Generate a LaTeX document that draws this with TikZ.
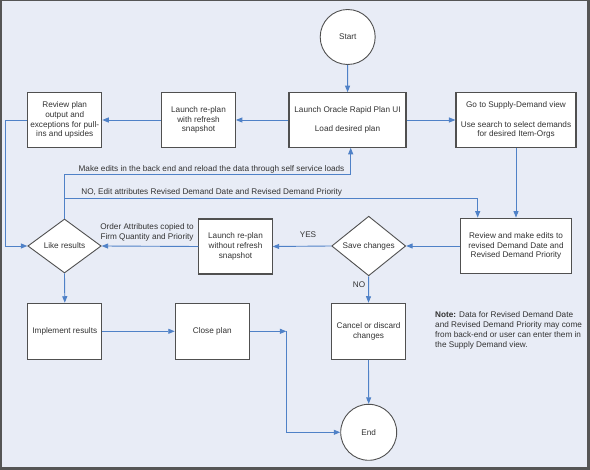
\documentclass[tikz,border=0pt]{standalone}
\usepackage{fontspec}
\setmainfont{Liberation Sans}
\usetikzlibrary{shapes.geometric,arrows.meta,calc}
\definecolor{bgc}{HTML}{E8ECF6}
\definecolor{linec}{HTML}{4F81C7}
\definecolor{boxc}{HTML}{505050}
\definecolor{txtc}{HTML}{333333}
\definecolor{framec}{HTML}{555555}
\begin{document}
\begin{tikzpicture}[x=1pt,y=-1pt,
  every node/.style={font=\fontsize{8.2}{9.8}\selectfont, text=txtc},
  box/.style={draw=boxc, line width=1.1pt, fill=white, align=center, inner sep=1pt},
  dia/.style={draw=boxc, line width=0.9pt, fill=white, diamond, inner sep=0pt, align=center},
  term/.style={draw=boxc, line width=0.9pt, fill=white, circle, inner sep=0pt},
  conn/.style={draw=linec, line width=0.9pt, -{Triangle[length=6.5pt,width=5pt]}},
  plain/.style={draw=linec, line width=0.9pt},
  lbl/.style={align=center, inner sep=0pt}]
\useasboundingbox (0,0) rectangle (590,470);
\fill[framec] (0,0) rectangle (590,470);
\fill[bgc] (1.5,1.5) rectangle (586.5,467);

\node[term, minimum size=55pt] (start) at (347.7,37) {Start};
\node[box, minimum width=117pt, minimum height=54.5pt] (launch) at (347.5,120) {Launch Oracle Rapid Plan UI\\[9.8pt]Load desired plan};
\node[box, minimum width=120pt, minimum height=54.5pt] (gosd) at (516,120) {Go to Supply-Demand view\\[9.8pt]Use search to select demands\\for desired Item-Orgs};
\node[box, minimum width=73.6pt, minimum height=54.5pt] (replan1) at (198.5,120) {Launch re-plan\\with refresh\\snapshot};
\node[box, minimum width=74pt, minimum height=54.5pt] (review) at (64.7,120) {Review plan\\output and\\exceptions for pull-\\ins and upsides};
\node[dia, minimum width=73.4pt, minimum height=54pt] (like) at (64.5,246) {Like results};
\node[box, minimum width=73.3pt, minimum height=55pt] (replan2) at (235.5,246.5) {Launch re-plan\\without refresh\\snapshot};
\node[dia, minimum width=74pt, minimum height=55pt] (save) at (368.7,246) {Save changes};
\node[box, minimum width=111.5pt, minimum height=55.7pt] (edit) at (516,246) {Review and make edits to\\revised Demand Date and\\Revised Demand Priority};
\node[box, minimum width=74pt, minimum height=56pt] (impl) at (64.8,331.3) {Implement results};
\node[box, minimum width=74pt, minimum height=56pt] (close) at (212.3,331.3) {Close plan};
\node[box, minimum width=74.4pt, minimum height=56pt] (cancel) at (368.5,331.3) {Cancel or discard\\changes};
\node[term, minimum size=56pt] (end) at (368.7,432.3) {End};

\node[lbl, anchor=north west, align=left] (note) at (435,311.5) {\textbf{Note:} Data for Revised Demand Date\\and Revised Demand Priority may come\\from back-end or user can enter them in\\the Supply Demand view.};

\draw[conn] (start) -- (launch);
\draw[conn] (launch.west) -- (replan1.east);
\draw[conn] (replan1.west) -- (review.east);
\draw[conn] (launch.east) -- (gosd.west);
\draw[conn] (gosd.south) -- (edit.north);
\draw[conn] (edit.west) -- (save.east);
\draw[conn] (save.west) -- (replan2.east);
\draw[conn] (replan2.west) -- (like.east);
\draw[conn] (review.west) -- ($(review.west)+(-21.7,0)$) |- (like.west);
\draw[conn] (like.south) -- (impl.north);
\draw[conn] (like.north) -- ($(like.north)+(0,-44)$) -| ($(launch.south)+(3.2,0)$);
\coordinate (nob) at ($(like.north)+(0,-19.7)$);
\draw[conn] (nob) -| ($(edit.north west)+(18,0)$);
\draw[conn] (impl.east) -- (close.west);
\coordinate (cc) at ($(close.east)+(36.5,0)$);
\draw[conn] (close.east) -- (cc);
\draw[conn] (cc) |- (end.west);
\draw[conn] (save.south) -- (cancel.north);
\draw[conn] (cancel.south) -- (end.north);

\node[lbl] (l1) at (211.5,169.3) {Make edits in the back end and reload the data through self service loads};
\node[lbl] (l2) at (211.7,192.7) {NO, Edit attributes Revised Demand Date and Revised Demand Priority};
\node[lbl] (l3) at (147,232) {Order Attributes copied to\\Firm Quantity and Priority};
\node[lbl] (l4) at (308,234.3) {YES};
\node[lbl] (l5) at (359,285) {NO};
\end{tikzpicture}
\end{document}
